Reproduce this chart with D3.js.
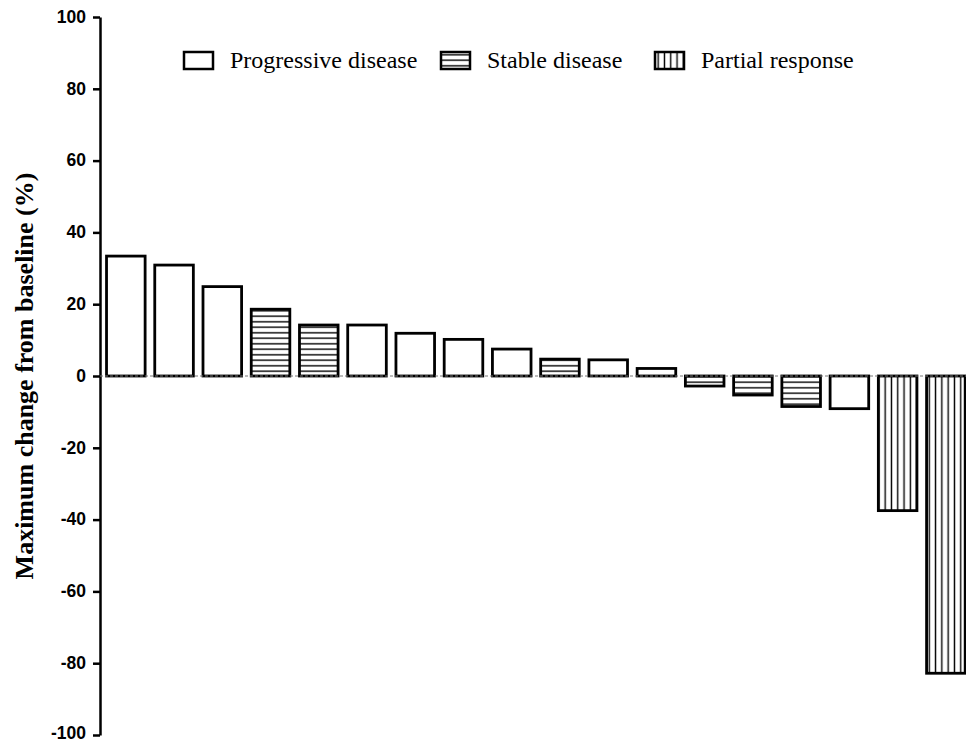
<!DOCTYPE html>
<html>
<head>
<meta charset="utf-8">
<script src="https://cdn.jsdelivr.net/npm/d3@7"></script>
<style>
  body { margin: 0; background: #fff; }
</style>
</head>
<body>
<svg id="chart" width="966" height="743"></svg>
<script>
// patients, sorted by max change
const patients = d3.range(1, 19).map(d => "P" + d);
const changes = [33.4, 30.9, 24.9, 18.6, 14.2, 14.2, 11.9, 10.2, 7.5, 4.7, 4.5, 2.1, -2.8, -5.3, -8.5, -9.1, -37.5, -82.8];
const responses = ["PD", "PD", "PD", "SD", "SD", "PD", "PD", "PD", "PD", "SD", "PD", "PD", "SD", "SD", "SD", "PD", "PR", "PR"];
const responseKeys = ["PD", "SD", "PR"];
const responseLabels = ["Progressive disease", "Stable disease", "Partial response"];
const yTicks = [-100, -80, -60, -40, -20, 0, 20, 40, 60, 80, 100];

const data = patients.map((p, i) => ({ id: p, value: changes[i], resp: responses[i] }));

const svg = d3.select("#chart");

// hatch patterns
const defs = svg.append("defs");
defs.append("pattern")
  .attr("id", "hatch-SD")
  .attr("patternUnits", "userSpaceOnUse")
  .attr("width", 10).attr("height", 5.5)
  .append("line")
  .attr("x1", 0).attr("x2", 10).attr("y1", 2.75).attr("y2", 2.75)
  .attr("stroke", "#000").attr("stroke-width", 1.4);
defs.append("pattern")
  .attr("id", "hatch-PR")
  .attr("patternUnits", "userSpaceOnUse")
  .attr("width", 6.3).attr("height", 10)
  .append("line")
  .attr("x1", 3.15).attr("x2", 3.15).attr("y1", 0).attr("y2", 10)
  .attr("stroke", "#000").attr("stroke-width", 1.4);

const fillFor = r => r === "PD" ? "#fff" : `url(#hatch-${r})`;

const x = d3.scaleBand()
  .domain(patients)
  .range([101.7, 970])
  .paddingInner(0.2)
  .paddingOuter(0.1);

const y = d3.scaleLinear()
  .domain([-100, 100])
  .range([735, 17]);

// axe y (tirets simples, pas de signe moins unicode)
const yAxis = svg.append("g")
  .attr("transform", "translate(100,0)")
  .call(d3.axisLeft(y).tickValues(yTicks).tickFormat(d => String(d))
    .tickSize(7).tickPadding(7).tickSizeOuter(0));
yAxis.select(".domain").attr("stroke", "#000").attr("stroke-width", 2.5);
yAxis.selectAll(".tick line").attr("stroke", "#000").attr("stroke-width", 2.5);
yAxis.selectAll("text")
  .attr("dy", d => d === -100 ? "0.2em" : "0.3em")
  .style("font-family", "'Liberation Sans', Arial, sans-serif")
  .style("font-size", "17.5px")
  .style("font-weight", "bold")
  .style("fill", "#000");

// bars
svg.selectAll(".bar")
  .data(data)
  .join("rect")
  .attr("class", "bar")
  .attr("x", d => x(d.id))
  .attr("y", d => y(Math.max(0, d.value)))
  .attr("width", x.bandwidth())
  .attr("height", d => Math.abs(y(d.value) - y(0)))
  .attr("fill", d => fillFor(d.resp))
  .attr("stroke", "#000")
  .attr("stroke-width", 2.8);

// zero line
svg.append("line")
  .attr("x1", 100).attr("x2", 966)
  .attr("y1", y(0)).attr("y2", y(0))
  .attr("stroke", "#777")
  .attr("stroke-width", 1)
  .attr("stroke-dasharray", "3,2");

// y label
svg.append("text")
  .attr("transform", `translate(33,${y(0)}) rotate(-90)`)
  .attr("text-anchor", "middle")
  .style("font-family", "'Liberation Serif', 'Times New Roman', serif")
  .style("font-size", "26px")
  .style("font-weight", "bold")
  .text("Maximum change from baseline (%)");

// legend
const legendX = [184, 441, 655];
const legend = svg.append("g");
responseKeys.forEach((k, i) => {
  const g = legend.append("g").attr("transform", `translate(${legendX[i]},52)`);
  g.append("rect")
    .attr("width", 29).attr("height", 17)
    .attr("fill", fillFor(k))
    .attr("stroke", "#000")
    .attr("stroke-width", 2.5);
  g.append("text")
    .attr("x", 46).attr("y", 16)
    .style("font-family", "'Liberation Serif', 'Times New Roman', serif")
    .style("font-size", "24px")
    .text(responseLabels[i]);
});
</script>
</body>
</html>
